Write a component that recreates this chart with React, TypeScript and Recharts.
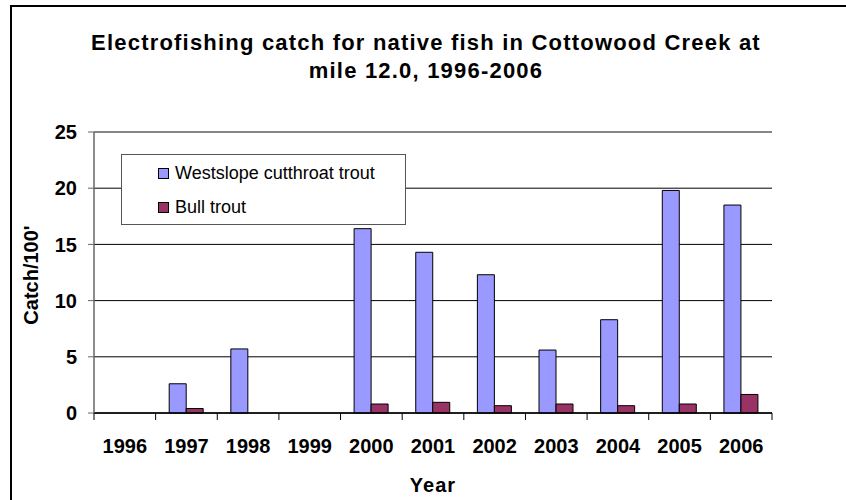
import React from "react";
import {
  BarChart,
  Bar,
  XAxis,
  YAxis,
  CartesianGrid,
  ReferenceLine,
  Legend,
} from "recharts";

const years = ["1996", "1997", "1998", "1999", "2000", "2001", "2002", "2003", "2004", "2005", "2006"];
const westslope: (number | null)[] = [null, 2.6, 5.7, null, 16.4, 14.3, 12.3, 5.6, 8.3, 19.8, 18.5];
const bullTrout: (number | null)[] = [null, 0.4, null, null, 0.8, 0.95, 0.65, 0.8, 0.65, 0.8, 1.65];
const yTicks = [0, 5, 10, 15, 20, 25];

const seriesNames = { w: "Westslope cutthroat trout", b: "Bull trout" };
const colors = { w: "#9999FF", b: "#993366" };

const data = years.map((y, i) => ({ year: y, w: westslope[i], b: bullTrout[i] }));

const FONT = '"Liberation Sans", Arial, Helvetica, sans-serif';

const LegendBox = () => (
  <div
    style={{
      width: 285,
      height: 71,
      boxSizing: "border-box",
      border: "1px solid #555",
      background: "#fff",
      position: "relative",
      fontFamily: FONT,
      fontSize: 18,
      color: "#000",
    }}
  >
    {(["w", "b"] as const).map((k, i) => (
      <div
        key={k}
        style={{
          position: "absolute",
          left: 36,
          top: i === 0 ? 6 : 40,
          height: 24,
          display: "flex",
          alignItems: "center",
          whiteSpace: "nowrap",
        }}
      >
        <span
          style={{
            display: "inline-block",
            width: 9,
            height: 9,
            background: colors[k],
            border: "1px solid #000",
            marginRight: 6,
          }}
        />
        <span>{seriesNames[k]}</span>
      </div>
    ))}
  </div>
);

// Category tick: label at the band centre, tick marks at the band edges.
const YearTick = (props: any) => {
  const { x, y, payload, width, visibleTicksCount, index } = props;
  const half =
    payload && typeof payload.offset === "number" && payload.offset > 0
      ? payload.offset
      : width / (visibleTicksCount || years.length) / 2;
  const isLast = index === (visibleTicksCount || years.length) - 1;
  return (
    <g>
      <line x1={x - half} x2={x - half} y1={y} y2={y + 7} stroke="#000" strokeWidth={1} />
      {isLast && (
        <line x1={x + half} x2={x + half} y1={y} y2={y + 7} stroke="#000" strokeWidth={1} />
      )}
      <text
        x={x}
        y={y + 40}
        textAnchor="middle"
        fill="#000"
        fontSize={20}
        fontWeight={700}
        fontFamily={FONT}
      >
        {payload.value}
      </text>
    </g>
  );
};

export default function App() {
  return (
    <div
      style={{
        position: "absolute",
        left: 0,
        top: 0,
        width: 846,
        height: 500,
        overflow: "hidden",
        background: "#fff",
        fontFamily: FONT,
      }}
    >
      <div
        style={{
          position: "absolute",
          left: 10,
          top: 5,
          width: 900,
          height: 600,
          border: "2px solid #000",
        }}
      />
      <BarChart
        width={846}
        height={500}
        data={data}
        margin={{ top: 132, right: 74, bottom: 47, left: 0 }}
        barCategoryGap="22%"
        barGap={0}
      >
        <CartesianGrid vertical={false} stroke="#000" strokeWidth={1} />
        <XAxis
          dataKey="year"
          height={40}
          axisLine={{ stroke: "#000", strokeWidth: 1.5 }}
          tickLine={false}
          tickSize={0}
          tickMargin={0}
          interval={0}
          tick={YearTick}
        />
        <YAxis
          width={94}
          domain={[0, 25]}
          ticks={yTicks}
          interval={0}
          tickSize={6}
          tickMargin={11}
          axisLine={{ stroke: "#666", strokeWidth: 1.5 }}
          tickLine={{ stroke: "#666" }}
          tick={{ fill: "#000", fontSize: 20, fontWeight: 700, fontFamily: FONT }}
        />
        <YAxis
          yAxisId="r"
          orientation="right"
          width={0}
          domain={[0, 25]}
          tick={false}
          tickLine={false}
          axisLine={{ stroke: "#888", strokeWidth: 1.5 }}
        />
        <ReferenceLine y={25} stroke="#888" strokeWidth={1.5} />
        <Legend
          layout="vertical"
          align="center"
          verticalAlign="middle"
          wrapperStyle={{ left: 121, top: 154, width: 285, height: 71 }}
          content={() => <LegendBox />}
        />
        <Bar
          dataKey="w"
          name={seriesNames.w}
          fill={colors.w}
          stroke="#000"
          strokeWidth={1}
          isAnimationActive={false}
        />
        <Bar
          dataKey="b"
          name={seriesNames.b}
          fill={colors.b}
          stroke="#000"
          strokeWidth={1}
          isAnimationActive={false}
        />
      </BarChart>
      <div
        style={{
          position: "absolute",
          left: 0,
          width: 852,
          top: 29,
          textAlign: "center",
          fontSize: 22,
          lineHeight: "28px",
          fontWeight: 700,
          letterSpacing: 1.2,
          color: "#000",
        }}
      >
        Electrofishing catch for native fish in Cottowood Creek at
        <br />
        mile 12.0, 1996-2006
      </div>
      <div
        style={{
          position: "absolute",
          left: 333,
          width: 200,
          top: 475,
          textAlign: "center",
          fontSize: 20,
          lineHeight: "20px",
          fontWeight: 700,
          letterSpacing: 1,
          color: "#000",
        }}
      >
        Year
      </div>
      <div
        style={{
          position: "absolute",
          left: -69,
          width: 200,
          top: 265,
          height: 20,
          textAlign: "center",
          fontSize: 20,
          lineHeight: "20px",
          fontWeight: 700,
          color: "#000",
          transform: "rotate(-90deg)",
        }}
      >
        Catch/100'
      </div>
    </div>
  );
}
